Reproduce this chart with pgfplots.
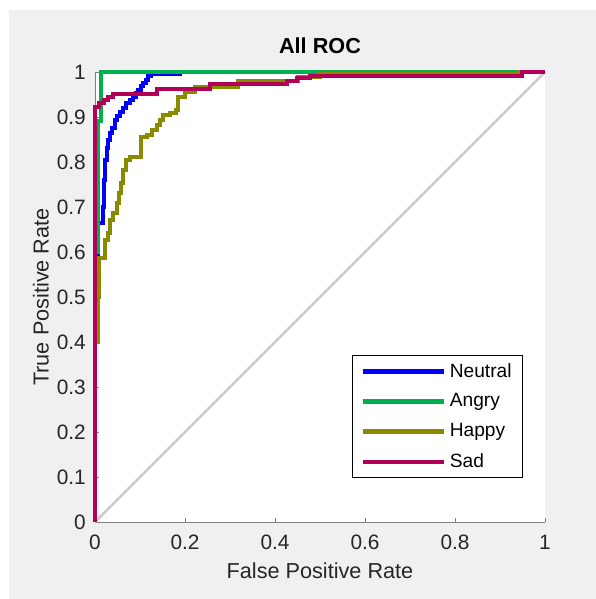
\documentclass[border=0pt]{standalone}
\usepackage{fontspec}
\setmainfont{Liberation Sans}
\usepackage{pgfplots}
\pgfplotsset{compat=1.18}
\definecolor{bggray}{RGB}{240,240,240}
\definecolor{txtgray}{RGB}{38,38,38}
\definecolor{axgray}{RGB}{128,128,128}
\definecolor{cNeutral}{RGB}{0,0,255}
\definecolor{cAngry}{RGB}{0,176,80}
\definecolor{cHappy}{RGB}{138,138,0}
\definecolor{cSad}{RGB}{178,0,88}
\definecolor{cDiag}{RGB}{204,204,204}
\begin{document}
\begin{tikzpicture}
% canvas 596x599 px, 1 px = 0.6pt
\path[use as bounding box] (0,0) rectangle (357.6pt,359.4pt);
\fill[white] (0,0) rectangle (357.6pt,359.4pt);
\fill[bggray] (5.4pt,0) rectangle (357.6pt,353.4pt);
\begin{axis}[
    at={(57pt,46.2pt)},anchor=south west,
    scale only axis,width=270pt,height=270pt,
    xmin=0,xmax=1,ymin=0,ymax=1,
    clip=false,
    axis background/.style={fill=white},
    axis x line*=bottom,axis y line*=left,
    axis line style={draw=axgray,line width=0.5pt,-},
    tick align=inside,major tick length=2.5pt,
    tick style={draw=axgray,line width=0.5pt},
    xtick={0,0.2,0.4,0.6,0.8,1},
    ytick={0,0.1,0.2,0.3,0.4,0.5,0.6,0.7,0.8,0.9,1},
    /pgf/number format/assume math mode=true,
    tick label style={font=\fontsize{12.5}{14}\selectfont,text=txtgray},
    xticklabel style={yshift=-4.5pt},
    yticklabel style={xshift=-2pt},
    xlabel={False Positive Rate},
    ylabel={True Positive Rate},
    every axis x label/.style={at={(axis description cs:0.5,0)},anchor=center,yshift=-29.5pt,
        font=\fontsize{13}{15}\selectfont,text=txtgray},
    every axis y label/.style={at={(axis description cs:0,0.5)},rotate=90,anchor=center,yshift=32.4pt,
        font=\fontsize{13}{15}\selectfont,text=txtgray},
    title={All ROC},
    title style={font=\fontsize{13}{15}\selectfont\bfseries,at={(axis description cs:0.5,1)},anchor=center,yshift=9.6pt},
    legend style={at={(0.951,0.098)},anchor=south east,draw=black,line width=0.6pt,fill=white,
        font=\fontsize{11.5}{13.5}\selectfont,row sep=4.5pt,inner xsep=4.5pt,inner ysep=2.5pt,
        /tikz/every even column/.append style={column sep=8pt}},
    legend cell align=left,
    legend image code/.code={\draw[#1,line width=2.6pt] (0pt,0pt) -- (49pt,0pt);},
]
\addplot[cDiag,line width=1.6pt,forget plot] coordinates {(0,0) (1,1)};
\addplot[cNeutral,line width=2.4pt,const plot] coordinates {
 (0,0) (0,0.49) (0.007,0.664) (0.017,0.70) (0.019,0.76) (0.022,0.804) (0.026,0.83)
 (0.030,0.849) (0.034,0.865) (0.037,0.875) (0.044,0.893) (0.050,0.903) (0.056,0.912)
 (0.063,0.921) (0.070,0.930) (0.078,0.938) (0.085,0.945) (0.091,0.953) (0.096,0.960)
 (0.102,0.968) (0.107,0.975) (0.113,0.983) (0.118,0.990) (0.125,0.996) (0.19,1) (1,1)};
\addplot[cAngry,line width=2.4pt,const plot] coordinates {
 (0,0) (0,0.6) (0.006,0.89) (0.013,1) (1,1)};
\addplot[cHappy,line width=2.4pt,const plot] coordinates {
 (0,0) (0,0.40) (0.006,0.50) (0.010,0.587) (0.022,0.627) (0.030,0.642) (0.033,0.671)
 (0.040,0.686) (0.050,0.709) (0.054,0.731) (0.058,0.753) (0.063,0.782) (0.070,0.804)
 (0.078,0.812) (0.103,0.856) (0.115,0.860) (0.126,0.871) (0.137,0.882) (0.144,0.893)
 (0.152,0.904) (0.167,0.908) (0.181,0.916) (0.185,0.945) (0.2,0.956) (0.222,0.967)
 (0.318,0.979) (0.451,0.989) (0.5,0.995) (0.944,1) (1,1)};
\addplot[cSad,line width=2.4pt,const plot] coordinates {
 (0,0) (0,0.922) (0.01,0.93) (0.02,0.937) (0.03,0.944) (0.04,0.952) (0.137,0.963)
 (0.256,0.973) (0.427,0.98) (0.449,0.987) (0.478,0.99) (0.949,1) (1,1)};
\legend{Neutral,Angry,Happy,Sad}
\end{axis}
\end{tikzpicture}
\end{document}
